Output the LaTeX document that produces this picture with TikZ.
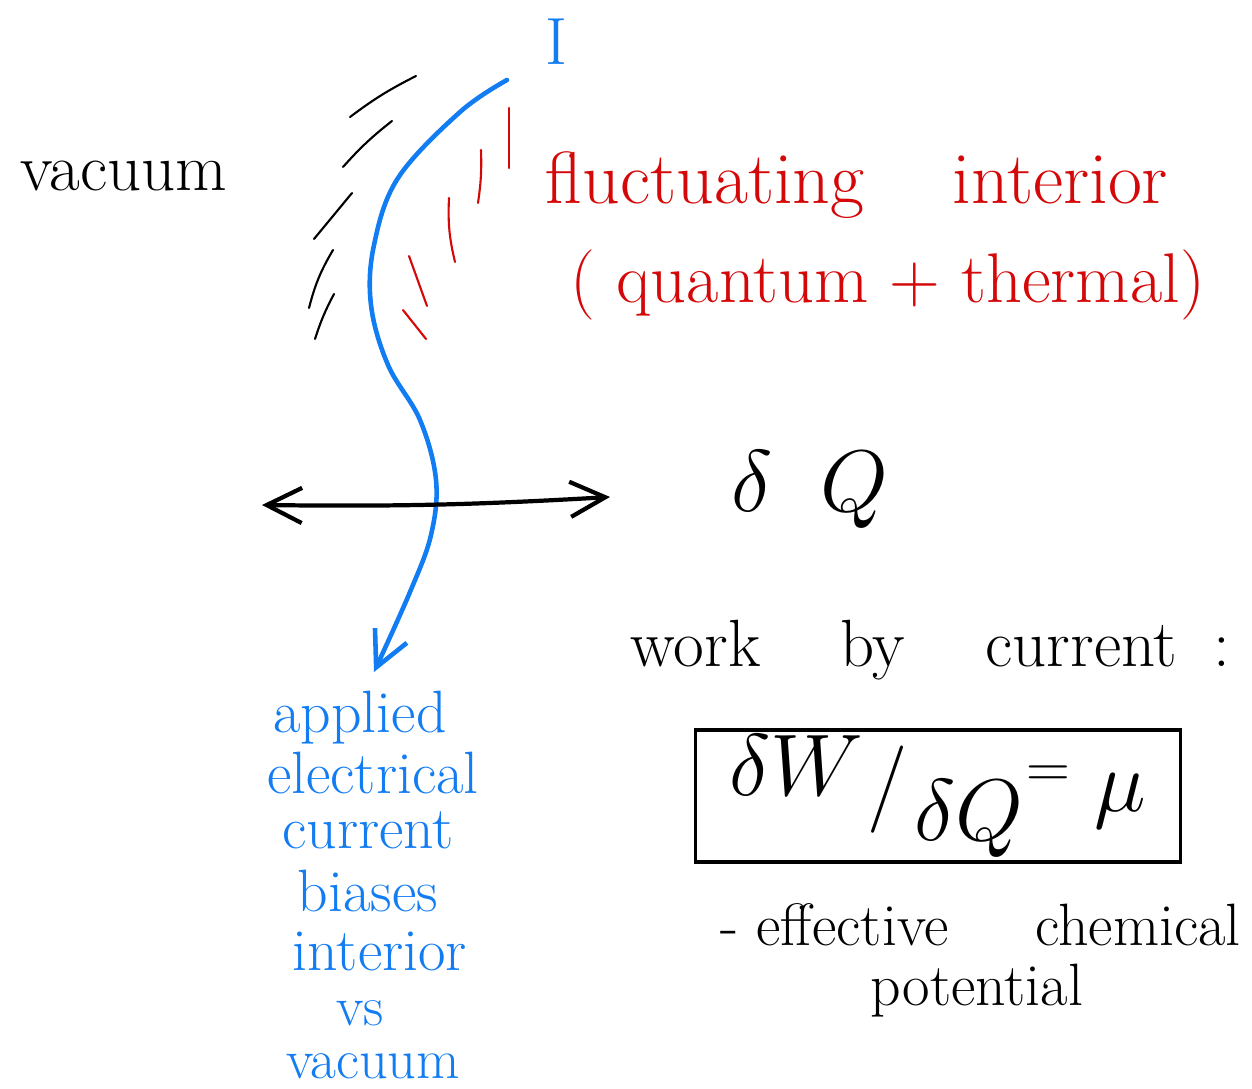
\documentclass[tikz,border=0pt]{standalone}
\usepackage{tikz}
\usetikzlibrary{arrows.meta}

\definecolor{penblue}{RGB}{18,124,242}
\definecolor{penred}{RGB}{212,8,8}

\begin{document}
\begin{tikzpicture}[
    x=0.01cm, y=-0.01cm,
    txt/.style={inner sep=0pt, font=\fontsize{18}{22}\selectfont},
    wide/.style={execute at begin node={\spaceskip=#1\relax}},
    bluetxt/.style={txt, text=penblue, anchor=base, font=\fontsize{17}{20}\selectfont},
    redtxt/.style={txt, text=penred, font=\fontsize{21}{25}\selectfont},
    hatch/.style={line width=0.6pt, line cap=round},
    >={Straight Barb[length=10pt, width=10pt]}
]
    % 画布边界
    \useasboundingbox (0,0) rectangle (1252,1088);

    % 电流 I 与曲线端点
    \node[txt, text=penblue, font=\fontsize{19}{23}\selectfont] (I) at (556,42) {I};
    \coordinate (top) at (507,80);
    \coordinate (bot) at (374,672);

    % 1. 蓝色电流曲线
    \draw[penblue, line width=1.3pt, line cap=round, ->]
        plot[smooth, tension=0.6] coordinates {(top) (460,112) (398,178) (374,245) (371,305)
            (388,365) (420,420) (436,480) (431,535) (410,592) (bot)};

    % 2. 左侧黑色短线 (vacuum)
    \draw[hatch] (350,117) to[bend left=5] (416,76);
    \draw[hatch] (343,167) to[bend left=5] (392,121);
    \draw[hatch] (314,239) -- (352,193);
    \draw[hatch] (309,308) to[bend left=8] (333,250);
    \draw[hatch] (315,339) to[bend left=5] (334,294);

    % 3. 右侧红色短线 (interior)
    \draw[hatch, penred] (509,108) -- (509,168);
    \draw[hatch, penred] (478,203) to[bend right=5] (481,150);
    \draw[hatch, penred] (449,198) to[bend right=8] (455,262);
    \draw[hatch, penred] (409,256) -- (427,306);
    \draw[hatch, penred] (403,310) -- (426,339);

    % 4. 水平双向箭头
    \coordinate (left) at (262,505);
    \coordinate (right) at (610,497);
    \draw[line width=1.2pt, <->] (left) to[bend right=2] (right);

    % 文字
    \node[txt, font=\fontsize{19}{23}\selectfont, anchor=west] (vac) at (20,176) {vacuum};
    \node[redtxt, wide=1.2em, anchor=west] (fluc) at (545,185) {fluctuating interior};
    \node[txt, text=penred, font=\fontsize{20}{24}\selectfont, anchor=west] (qt) at (570,285) {( quantum + thermal)};
    \node[txt, font=\fontsize{26}{30}\selectfont] (dQ) at (810,490) {$\delta\;\; Q$};
    \node[txt, wide=1.2em, anchor=west, font=\fontsize{19}{23}\selectfont] (work) at (630,650)
          {work by current\hspace{0.55em}:};

    % 5. 方框公式
    \node[draw, line width=0.9pt, inner sep=0pt, minimum width=4.85cm, minimum height=1.32cm,
          font=\fontsize{23}{27}\selectfont] (eq) at (938,796)
          {$\raisebox{0.2em}{$\delta W$}\kern1pt\big/\kern2pt\raisebox{-0.35em}{$\delta Q$}
            \kern1pt\raisebox{0.3em}{$\scriptstyle =$}\; \mu$};

    \node[txt, anchor=west, font=\fontsize{17}{21}\selectfont] (eff) at (720,925)
          {-\hspace{0.3em}effective\hspace{1.45em}chemical};
    \node[txt, anchor=base, font=\fontsize{17}{20}\selectfont] (pot) at (977,1005) {potential};

    % 蓝色说明文字
    \node[bluetxt] (b1) at (360,732) {applied};
    \node[bluetxt] (b2) at (373,793) {electrical};
    \node[bluetxt] (b3) at (368,848) {current};
    \node[bluetxt] (b4) at (368,911) {biases};
    \node[bluetxt] (b5) at (380,970) {interior};
    \node[bluetxt, font=\fontsize{16}{19}\selectfont] (b6) at (360,1025) {vs};
    \node[bluetxt, font=\fontsize{16}{19}\selectfont] (b7) at (373,1078) {vacuum};

\end{tikzpicture}
\end{document}
